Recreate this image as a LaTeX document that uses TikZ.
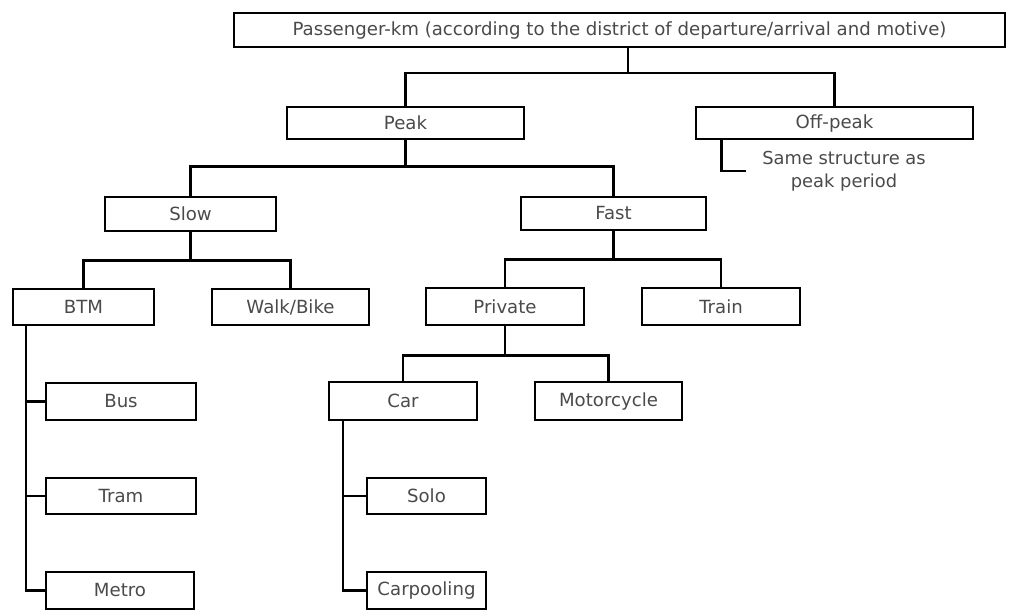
\documentclass[tikz,border=0pt]{standalone}
\usepackage{fontspec}
\setmainfont{DejaVu Sans}
\usetikzlibrary{calc}
\definecolor{txtgray}{HTML}{4A4A4A}
\newcommand\boxnode[6]{\node[box, minimum width={(#4-#2)*0.75pt}, minimum height={(#5-#3)*0.75pt}] (#1) at ({(#2+#4)/2},{(#3+#5)/2}) {#6};}
\begin{document}
\begin{tikzpicture}[x=0.75pt,y=-0.75pt,
  box/.style={draw=black, line width=1.9pt, text=txtgray, font=\fontsize{13.6}{16}\selectfont, inner sep=0pt},
  conn/.style={line width=1.9pt},
  note/.style={text=txtgray, font=\fontsize{13.4}{17}\selectfont, align=center, inner sep=0pt}]
\useasboundingbox (0,0) rectangle (1011,610);
\boxnode{top}{234}{13}{1005}{47}{Passenger-km (according to the district of departure/arrival and motive)}
\boxnode{peak}{287}{107}{524}{139}{Peak}
\boxnode{offpeak}{696}{107}{973}{139}{Off-peak}
\boxnode{slow}{105}{197}{276}{231}{Slow}
\boxnode{fast}{521}{197}{706}{230}{Fast}
\boxnode{btm}{13}{289}{154}{325}{BTM}
\boxnode{walk}{212}{289}{369}{325}{Walk/Bike}
\boxnode{private}{426}{288}{584}{325}{Private}
\boxnode{train}{642}{288}{800}{325}{Train}
\boxnode{car}{329}{382}{477}{420}{Car}
\boxnode{moto}{535}{382}{682}{420}{Motorcycle}
\boxnode{bus}{46}{383}{196}{420}{Bus}
\boxnode{tram}{46}{478}{196}{514}{Tram}
\boxnode{metro}{46}{572}{194}{609}{Metro}
\boxnode{solo}{367}{478}{486}{514}{Solo}
\boxnode{carpool}{367}{572}{486}{609}{Carpooling}
\node[note] (samenote) at (844,171) {Same structure as\\peak period};
% junctions
\coordinate (j0) at (628,73);
\path (peak.south) ++(0,26) coordinate (j1);
\path (slow.south) ++(0,28) coordinate (j2);
\path (fast.south) ++(0,28) coordinate (j3);
\path (private.south) ++(0,29) coordinate (j4);
\coordinate (r1) at (26,0);
\coordinate (r2) at (343,0);
% connectors
\draw[conn] (top.south -| j0) -- (j0);
\draw[conn] (peak.north) |- (j0) -| (offpeak.north);
\draw[conn] (peak.south) -- (j1);
\draw[conn] (slow.north) |- (j1) -| (fast.north);
\draw[conn] (slow.south) -- (j2);
\draw[conn] (btm.north) |- (j2) -| (walk.north);
\draw[conn] (fast.south) -- (j3);
\draw[conn] (private.north) |- (j3) -| (train.north);
\draw[conn] (private.south) -- (j4);
\draw[conn] (car.north) |- (j4) -| (moto.north);
\draw[conn] (btm.south -| r1) |- (metro.west);
\draw[conn] (bus.west) -- (bus.west -| r1);
\draw[conn] (tram.west) -- (tram.west -| r1);
\draw[conn] (car.south -| r2) |- (carpool.west);
\draw[conn] (solo.west) -- (solo.west -| r2);
\draw[conn] ($(offpeak.south west)+(27,0)$) |- ($(samenote.west)+(-16,0)$);
\end{tikzpicture}
\end{document}
